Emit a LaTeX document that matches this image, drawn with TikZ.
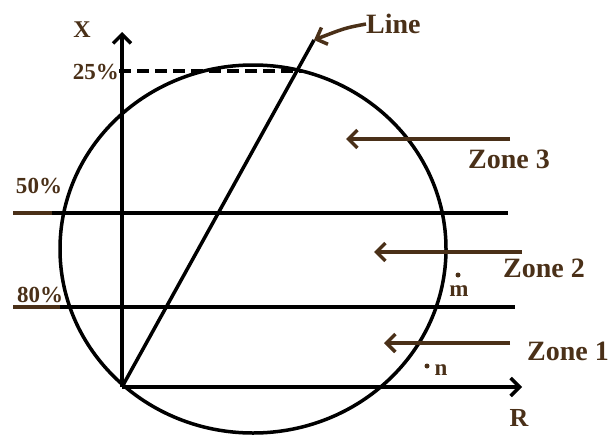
\documentclass[tikz,border=0pt]{standalone}
\usepackage{fontspec}
\setmainfont{Liberation Serif}
\usetikzlibrary{arrows.meta}
\definecolor{brn}{HTML}{4A3018}
\tikzset{
  ln/.style={line width=3.5pt, black},
  bl/.style={line width=3.5pt, brn},
  lab/.style={text=brn, font=\bfseries\fontsize{28}{30}\selectfont, inner sep=0pt},
  pct/.style={text=brn, font=\bfseries\fontsize{23}{25}\selectfont, inner sep=0pt},
  sml/.style={text=brn, font=\bfseries\fontsize{23}{25}\selectfont, inner sep=0pt},
  barb/.style={-{Straight Barb[length=9pt,width=18pt,line width=3.5pt]}}
}
\begin{document}
\begin{tikzpicture}[x=1pt,y=-1pt]
\useasboundingbox (0,0) rectangle (609,434);
% circle
\draw[ln] (253,249) ellipse [x radius=193, y radius=184];
% axes
\coordinate (O) at (122,387);
\coordinate (Xt) at (122,32);
\coordinate (Rt) at (522,387);
\draw[ln,barb] (O) -- (Xt);
\draw[ln,barb] (O) -- (Rt);
\node[text=brn, font=\bfseries\fontsize{24}{26}\selectfont, inner sep=0pt] (X) at (82,30) {X};
\node[text=brn, font=\bfseries\fontsize{26}{28}\selectfont, inner sep=0pt] (R) at (519,418) {R};
% line
\coordinate (Le) at (314,40);
\draw[ln] (O) -- (Le);
\node[lab, anchor=west] (Line) at (366,24) {Line};
\draw[bl,barb] (Line.west) .. controls (345,28) .. (Le);
% 25%
\node[pct, anchor=east] (p25) at (119,72) {25\%};
\coordinate (d25) at (302,71);
\draw[ln,dashed,dash pattern=on 12pt off 6pt] (p25.east |- d25) -- (d25);
% 50%
\node[pct] (p50) at (39,186) {50\%};
\coordinate (a50) at (13,213);
\coordinate (m50) at (52,213);
\coordinate (b50) at (508,213);
\draw[bl] (a50) -- (m50);
\draw[ln] (m50) -- (b50);
% 80%
\node[pct] (p80) at (40,295) {80\%};
\coordinate (a80) at (13,307);
\coordinate (m80) at (60,307);
\coordinate (b80) at (515,307);
\draw[bl] (a80) -- (m80);
\draw[ln] (m80) -- (b80);
% zones
\coordinate (z3a) at (510,139); \coordinate (z3b) at (346,139);
\draw[bl,barb] (z3a) -- (z3b);
\node[lab] (Z3) at (509,159) {Zone 3};
\coordinate (z2a) at (522,252); \coordinate (z2b) at (374,252);
\draw[bl,barb] (z2a) -- (z2b);
\node[lab] (Z2) at (544,268) {Zone 2};
\coordinate (z1a) at (510,343); \coordinate (z1b) at (384,343);
\draw[bl,barb] (z1a) -- (z1b);
\node[lab] (Z1) at (568,351) {Zone 1};
% m and n
\node[sml] (m) at (459,291) {m};
\fill[brn] (458,275) circle (2.5pt);
\node[sml] (n) at (441,370) {n};
\fill[brn] (427,366) circle (2.5pt);
\end{tikzpicture}
\end{document}
